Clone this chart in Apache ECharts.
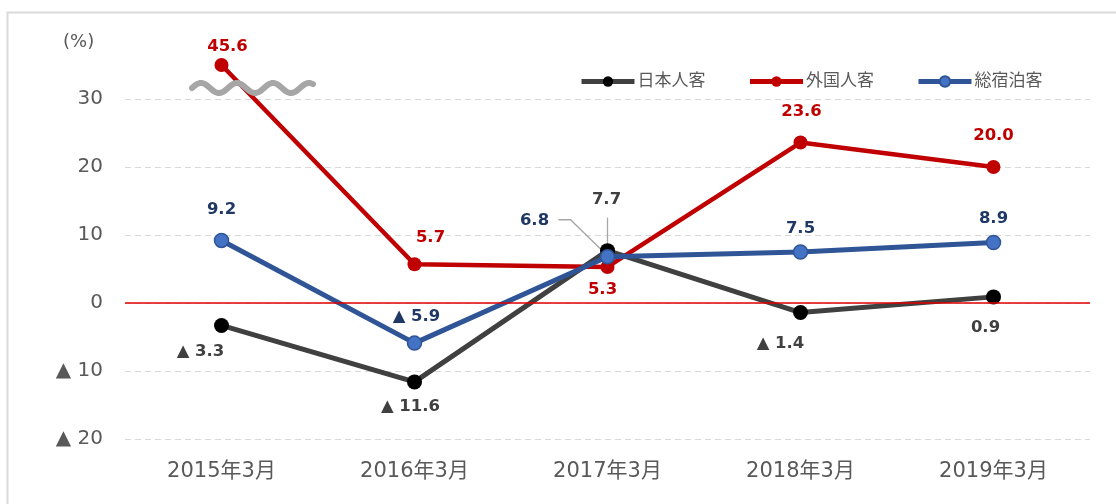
<!DOCTYPE html>
<html><head><meta charset="utf-8">
<script src="https://cdn.jsdelivr.net/npm/echarts@6/dist/echarts.min.js"></script>
<style>html,body{margin:0;padding:0;background:#fff;overflow:hidden}#c{width:1116px;height:504px}</style>
</head><body><div id="c"></div>
<script>
// ---- data ----
const categories = ['2015年3月', '2016年3月', '2017年3月', '2018年3月', '2019年3月'];
const seriesNames = ['日本人客', '外国人客', '総宿泊客'];
const japanese = [-3.3, -11.6, 7.7, -1.4, 0.9];
const foreign = [45.6, 5.7, 5.3, 23.6, 20.0];
const total = [9.2, -5.9, 6.8, 7.5, 8.9];
const yMin = -20, yMax = 40, yInterval = 10;
const breakValue = 35; // values above this are drawn at the axis break

// ---- styles ----
const FONT = "'DejaVu Sans','Noto Sans CJK JP',sans-serif";
const fmtVal = v => (v < 0 ? '▲ ' + Math.abs(v).toFixed(1) : v.toFixed(1));
const fmtAxis = v => (v === yMax ? '' : (v < 0 ? '▲ ' + Math.abs(v) : String(v)));

const offsets = {
  j: [[-21, 26], [-4, 25], [-1, -51], [-20, 31], [-8, 31]],
  r: [[6, -18], [16, -27], [-5, 23], [1, -31], [0, -31]],
  b: [[0, -31], [2, -26], [-73, -36], [0, -23], [0, -24]]
};

function buildData(values, key, color, plotCap) {
  return values.map((v, i) => ({
    value: plotCap != null ? Math.min(v, plotCap) : v,
    label: {
      show: true, position: 'inside', offset: offsets[key][i],
      formatter: () => fmtVal(v), color: color,
      fontFamily: FONT, fontWeight: 'bold', fontSize: 16.5
    }
  }));
}

const chart = echarts.init(document.getElementById('c'), null, { renderer: 'canvas' });

// wavy break mark points (decoration)
const wave = [];
for (let x = 192; x <= 313; x += 1) {
  wave.push([x, 88 - 5 * Math.sin((x - 192) / 36 * 2 * Math.PI)]);
}

chart.setOption({
  animation: false,
  backgroundColor: '#fff',
  grid: { left: 125, right: 26, top: 31, bottom: 65 },
  legend: {
    left: 574, top: 68,
    itemWidth: 53, itemHeight: 13, itemGap: 42,
    lineStyle: { width: 5 },
    textStyle: { fontSize: 17, color: '#595959', fontFamily: FONT, padding: [0, 0, 0, -2] },
    data: seriesNames
  },
  xAxis: {
    type: 'category', data: categories, boundaryGap: true,
    axisLine: { show: false }, axisTick: { show: false },
    axisLabel: { color: '#595959', fontSize: 21, margin: 22, fontFamily: FONT }
  },
  yAxis: {
    type: 'value', min: yMin, max: yMax, interval: yInterval,
    axisLine: { show: false }, axisTick: { show: false },
    axisLabel: { color: '#595959', fontSize: 20, margin: 22, fontFamily: FONT, formatter: fmtAxis },
    splitLine: { show: true, showMaxLine: false, lineStyle: { color: '#D9D9D9', type: [6, 4], width: 1 } }
  },
  series: [
    {
      name: seriesNames[0], type: 'line', z: 3,
      data: buildData(japanese, 'j', '#404040'),
      symbol: 'circle', symbolSize: 15,
      lineStyle: { color: '#404040', width: 5 },
      itemStyle: { color: '#000000' },
      markLine: {
        silent: true, symbol: 'none', label: { show: false },
        lineStyle: { color: '#E00000', width: 1.5, type: 'solid' },
        data: [{ yAxis: 0 }]
      }
    },
    {
      name: seriesNames[1], type: 'line', z: 2,
      data: buildData(foreign, 'r', '#C00000', breakValue),
      symbol: 'circle', symbolSize: 14,
      lineStyle: { color: '#C00000', width: 4.5 },
      itemStyle: { color: '#C00000' }
    },
    {
      name: seriesNames[2], type: 'line', z: 4,
      data: buildData(total, 'b', '#1F3864'),
      symbol: 'circle', symbolSize: 14,
      lineStyle: { color: '#2F5597', width: 5 },
      itemStyle: { color: '#4472C4', borderColor: '#2F5597', borderWidth: 1.5 }
    }
  ]
});

// leader lines for the crowded 2017 labels, anchored on the library's own pixel positions
const pJ = chart.convertToPixel({ seriesIndex: 0 }, [2, japanese[2]]);
const pB = chart.convertToPixel({ seriesIndex: 2 }, [2, total[2]]);
const lineStyleL = { stroke: '#A6A6A6', lineWidth: 1.3, fill: 'none' };

chart.setOption({
  graphic: [
    { type: 'rect', z: 0, silent: true, shape: { x: 7.5, y: 12.5, width: 1300, height: 700 },
      style: { fill: 'none', stroke: '#D9D9D9', lineWidth: 2 } },
    { type: 'text', left: 63, top: 33, silent: true,
      style: { text: '(%)', fill: '#595959', font: '18px ' + FONT } },
    { type: 'polyline', z: 10, silent: true, shape: { points: wave },
      style: { stroke: '#A6A6A6', lineWidth: 6, fill: 'none', lineCap: 'round' } },
    { type: 'polyline', z: 1, silent: true,
      shape: { points: [[pJ[0], pJ[1] - 33], [pJ[0], pJ[1] - 4]] }, style: lineStyleL },
    { type: 'polyline', z: 1, silent: true,
      shape: { points: [[pB[0] - 49, pB[1] - 37], [pB[0] - 37, pB[1] - 37], [pB[0] - 2, pB[1] - 3]] }, style: lineStyleL }
  ]
});
</script></body></html>
